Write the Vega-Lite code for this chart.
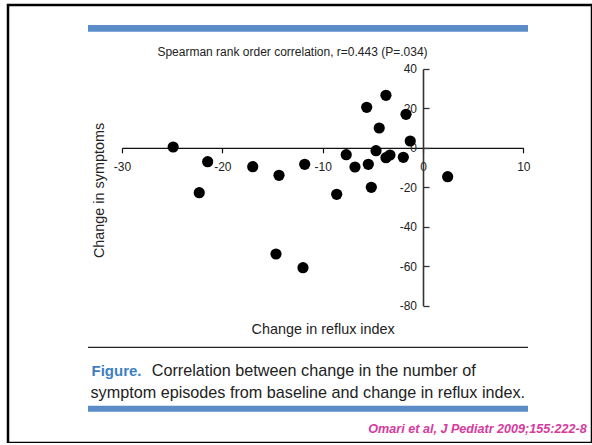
{
  "$schema": "https://vega.github.io/schema/vega-lite/v6.json",
  "width": 584,
  "height": 438,
  "autosize": {"type": "none"},
  "padding": {"left": 8, "top": 5, "right": 0, "bottom": 0},
  "background": "white",
  "config": {
    "view": {"stroke": "#000000", "strokeWidth": 2.5},
    "font": "Liberation Sans"
  },
  "title": {
    "text": "Spearman rank order correlation, r=0.443 (P=.034)",
    "anchor": "middle",
    "frame": "group",
    "dx": -7.5,
    "offset": -63,
    "baseline": "alphabetic",
    "font": "Liberation Sans",
    "fontSize": 12,
    "fontWeight": "normal",
    "color": "#222222"
  },
  "layer": [
    {
      "data": {"values": [{}]},
      "mark": {"type": "rect", "color": "#5a8dc8"},
      "encoding": {
        "x": {"datum": -33.39, "type": "quantitative"},
        "x2": {"datum": 10.47},
        "y": {"datum": 62.26, "type": "quantitative"},
        "y2": {"datum": 58.86}
      }
    },
    {
      "data": {"values": [{}]},
      "mark": {"type": "rect", "color": "#5a8dc8"},
      "encoding": {
        "x": {"datum": -33.39, "type": "quantitative"},
        "x2": {"datum": 10.47},
        "y": {"datum": -130.75, "type": "quantitative"},
        "y2": {"datum": -133.79}
      }
    },
    {
      "data": {"values": [{}]},
      "mark": {"type": "rule", "color": "#222222", "strokeWidth": 1.2},
      "encoding": {
        "x": {"datum": -33.39, "type": "quantitative"},
        "x2": {"datum": 10.47},
        "y": {"datum": -101.14, "type": "quantitative"}
      }
    },
    {
      "data": {"values": [{}]},
      "mark": {"type": "text", "text": "Figure.", "align": "left", "baseline": "alphabetic", "font": "Liberation Sans", "fontSize": 15, "fontWeight": "bold", "color": "#3d7fc1"},
      "encoding": {
        "x": {"datum": -33.04, "type": "quantitative"},
        "y": {"datum": -115.54, "type": "quantitative"}
      }
    },
    {
      "data": {"values": [{}]},
      "mark": {"type": "text", "text": "Correlation between change in the number of", "align": "left", "baseline": "alphabetic", "font": "Liberation Sans", "fontSize": 16.2, "color": "#222222"},
      "encoding": {
        "x": {"datum": -27.04, "type": "quantitative"},
        "y": {"datum": -115.54, "type": "quantitative"}
      }
    },
    {
      "data": {"values": [{}]},
      "mark": {"type": "text", "text": "symptom episodes from baseline and change in reflux index.", "align": "left", "baseline": "alphabetic", "font": "Liberation Sans", "fontSize": 16.2, "color": "#222222"},
      "encoding": {
        "x": {"datum": -33.14, "type": "quantitative"},
        "y": {"datum": -126.69, "type": "quantitative"}
      }
    },
    {
      "data": {"values": [{}]},
      "mark": {"type": "text", "text": "Omari et al, J Pediatr 2009;155:222-8", "align": "left", "baseline": "alphabetic", "font": "Liberation Sans", "fontSize": 12.6, "fontWeight": "bold", "fontStyle": "italic", "color": "#d63a9d"},
      "encoding": {
        "x": {"datum": -5.45, "type": "quantitative"},
        "y": {"datum": -144.44, "type": "quantitative"}
      }
    },
    {
      "data": {
        "values": [
          {"reflux": -24.9, "symptoms": 0.4},
          {"reflux": -21.46, "symptoms": -7.05},
          {"reflux": -22.3, "symptoms": -22.76},
          {"reflux": -16.97, "symptoms": -9.58},
          {"reflux": -14.35, "symptoms": -13.94},
          {"reflux": -11.79, "symptoms": -8.37},
          {"reflux": -8.6, "symptoms": -23.57},
          {"reflux": -7.65, "symptoms": -3.5},
          {"reflux": -6.78, "symptoms": -9.73},
          {"reflux": -5.61, "symptoms": 20.53},
          {"reflux": -5.45, "symptoms": -8.37},
          {"reflux": -5.15, "symptoms": -20.03},
          {"reflux": -4.68, "symptoms": -1.47},
          {"reflux": -4.36, "symptoms": 10.04},
          {"reflux": -3.69, "symptoms": 26.62},
          {"reflux": -3.69, "symptoms": -5.02},
          {"reflux": -3.29, "symptoms": -3.65},
          {"reflux": -1.96, "symptoms": -4.82},
          {"reflux": -1.69, "symptoms": 16.98},
          {"reflux": -1.27, "symptoms": 3.45},
          {"reflux": 2.46, "symptoms": -14.65},
          {"reflux": -14.65, "symptoms": -53.84},
          {"reflux": -11.96, "symptoms": -60.79}
        ]
      },
      "mark": {"type": "point", "filled": true, "color": "#000000", "opacity": 1, "size": 125, "strokeWidth": 0},
      "encoding": {
        "x": {
          "field": "reflux",
          "type": "quantitative",
          "scale": {"domain": [-30, 10], "range": [114, 515.3], "nice": false, "zero": false},
          "axis": {
            "title": "Change in reflux index",
            "values": [-30, -20, -10, 0, 10],
            "offset": -295.2,
            "grid": false,
            "domainColor": "#111111",
            "domainWidth": 1.2,
            "tickColor": "#111111",
            "tickWidth": 1.2,
            "tickSize": 5,
            "labelPadding": 8.8,
            "labelFlush": false,
            "labelOverlap": false,
            "labelBound": false,
            "labelFont": "Liberation Sans",
            "labelFontSize": 12,
            "labelColor": "#222222",
            "labelExpr": "'' + datum.value",
            "titleFont": "Liberation Sans",
            "titleFontSize": 14.4,
            "titleFontWeight": "normal",
            "titleColor": "#222222",
            "titleBaseline": "alphabetic",
            "titleY": 185.5
          }
        },
        "y": {
          "field": "symptoms",
          "type": "quantitative",
          "scale": {"domain": [-80, 40], "range": [300.6, 63.9], "nice": false, "zero": false},
          "axis": {
            "title": "Change in symptoms",
            "values": [-80, -60, -40, -20, 0, 20, 40],
            "offset": -415,
            "grid": false,
            "domainColor": "#333333",
            "domainWidth": 1.6,
            "tickColor": "#333333",
            "tickWidth": 1.3,
            "tickSize": -6,
            "labelPadding": 12.5,
            "labelFlush": false,
            "labelOverlap": false,
            "labelBound": false,
            "labelFont": "Liberation Sans",
            "labelFontSize": 12,
            "labelColor": "#222222",
            "labelExpr": "'' + datum.value",
            "titleFont": "Liberation Sans",
            "titleFontSize": 14.4,
            "titleFontWeight": "normal",
            "titleColor": "#222222",
            "titleBaseline": "alphabetic",
            "titleX": -319.5,
            "titleY": 185
          }
        }
      }
    }
  ]
}
